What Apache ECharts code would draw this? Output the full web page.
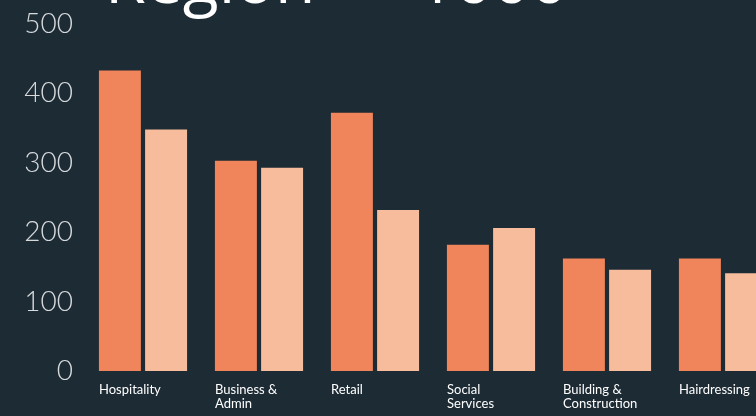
<!DOCTYPE html>
<html>
<head>
<meta charset="utf-8">
<script src="https://cdn.jsdelivr.net/npm/echarts@6/dist/echarts.min.js"></script>
<style>
	html,body{margin:0;padding:0;background:#1d2b34;overflow:hidden;}
	#mainChart{width:781px;height:416px;}
</style>
</head>
<body>
<div id="mainChart"></div>
<script>
	var titleText = 'Region  –  1000';
	var categories = ['Hospitality', 'Business &\nAdmin', 'Retail', 'Social\nServices', 'Building &\nConstruction', 'Hairdressing'];
	var seriesA = [433, 303, 372, 182, 162, 162];
	var seriesB = [348, 293, 232, 206, 146, 141];
	var yTicks = [0, 100, 200, 300, 400, 500];

	var options = {
		backgroundColor: '#1d2b34',
		animation: false,
		title: {
			text: titleText,
			left: 100,
			top: -54,
			textStyle: {
				color: '#ffffff',
				fontFamily: 'Open Sans',
				fontWeight: 'normal',
				fontSize: 66
			}
		},
		grid: {
			left: 85,
			top: 24,
			right: 0,
			bottom: 45
		},
		xAxis: {
			type: 'category',
			data: categories,
			axisLine: { show: false },
			axisTick: { show: false },
			axisLabel: {
				interval: 0,
				align: 'left',
				verticalAlign: 'top',
				padding: [0, 0, 0, -44],
				margin: 12,
				color: '#ffffff',
				fontFamily: 'Liberation Sans Narrow, Lato',
				fontSize: 13,
				lineHeight: 14
			}
		},
		yAxis: {
			type: 'value',
			min: yTicks[0],
			max: yTicks[yTicks.length - 1],
			interval: 100,
			splitLine: { show: false },
			axisLine: { show: false },
			axisTick: { show: false },
			axisLabel: {
				margin: 12,
				color: '#d6dadd',
				fontFamily: 'Lato',
				fontWeight: 300,
				fontSize: 28
			}
		},
		series: [{
			name: 'A',
			type: 'bar',
			data: seriesA,
			barGap: '10%',
			barCategoryGap: '24%',
			itemStyle: { color: '#f0845a' }
		}, {
			name: 'B',
			type: 'bar',
			data: seriesB,
			itemStyle: { color: '#f6bc9c' }
		}]
	};

	var chart = echarts.init(document.getElementById('mainChart'));
	chart.setOption(options);
</script>
</body>
</html>
